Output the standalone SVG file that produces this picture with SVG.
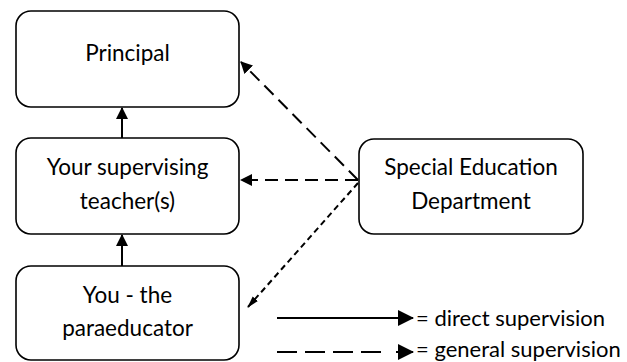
<svg xmlns="http://www.w3.org/2000/svg" width="627" height="362" viewBox="0 0 627 362">
<defs>
<style>
.box{fill:#fff;stroke:#000;stroke-width:1.6}
.t{font-family:Lato,"Open Sans","Liberation Sans",sans-serif;font-size:22.5px;fill:#000;text-anchor:middle}
.tl{font-family:Lato,"Open Sans","Liberation Sans",sans-serif;font-size:22px;fill:#000;text-anchor:start}
.solid{fill:none;stroke:#000;stroke-width:2}
.dash{fill:none;stroke:#000;stroke-width:2;stroke-dasharray:13 7}
.sdash{fill:none;stroke:#000;stroke-width:2;stroke-dasharray:6 4}
.ldash{fill:none;stroke:#000;stroke-width:2;stroke-dasharray:20 8}
</style>
<marker id="ah" viewBox="0 0 12 12" refX="11" refY="6" markerWidth="12" markerHeight="12" markerUnits="userSpaceOnUse" orient="auto">
<path d="M0,0 L12,6 L0,12 Z" fill="#000"/>
</marker>
<marker id="ahl" viewBox="0 0 16 16" refX="15" refY="8" markerWidth="16" markerHeight="16" markerUnits="userSpaceOnUse" orient="auto">
<path d="M0,0 L16,8 L0,16 Z" fill="#000"/>
</marker>
<marker id="ahs" viewBox="0 0 12 8" refX="11" refY="4" markerWidth="12" markerHeight="8" markerUnits="userSpaceOnUse" orient="auto">
<path d="M0,0.5 L12,4 L0,7.5 Z" fill="#000"/>
</marker>
</defs>
<g id="principal">
<rect class="box" x="16" y="11" width="223" height="96" rx="15"/>
<text class="t" x="127.5" y="61">Principal</text>
</g>
<g id="supervising-teacher">
<rect class="box" x="16" y="138" width="223" height="96" rx="15"/>
<text class="t" x="127.5" y="175">Your supervising</text>
<text class="t" x="127.5" y="209">teacher(s)</text>
</g>
<g id="paraeducator">
<rect class="box" x="16" y="266" width="223" height="94" rx="15"/>
<text class="t" x="127.5" y="303">You - the</text>
<text class="t" x="127.5" y="336">paraeducator</text>
</g>
<g id="special-education">
<rect class="box" x="359" y="139" width="224" height="95" rx="15"/>
<text class="t" x="471" y="175">Special Education</text>
<text class="t" x="471" y="209">Department</text>
</g>
<g id="connectors">
<path class="solid" d="M122,138 L122,108" marker-end="url(#ah)"/>
<path class="solid" d="M122,266 L122,235" marker-end="url(#ah)"/>
<path class="dash" d="M358,180 L241,62" marker-end="url(#ah)"/>
<path class="dash" d="M358,180 L241,180" marker-end="url(#ah)"/>
<path class="sdash" d="M358,183 L248,307" marker-end="url(#ahs)"/>
</g>
<g id="legend">
<path class="solid" d="M277,318 L413,318" marker-end="url(#ahl)"/>
<text class="tl" x="416" y="326">= direct supervision</text>
<path class="ldash" d="M277,352 L385,352"/>
<path class="solid" d="M396,352 L413,352" marker-end="url(#ahl)"/>
<text class="tl" x="416" y="357">= general supervision</text>
</g>
</svg>
